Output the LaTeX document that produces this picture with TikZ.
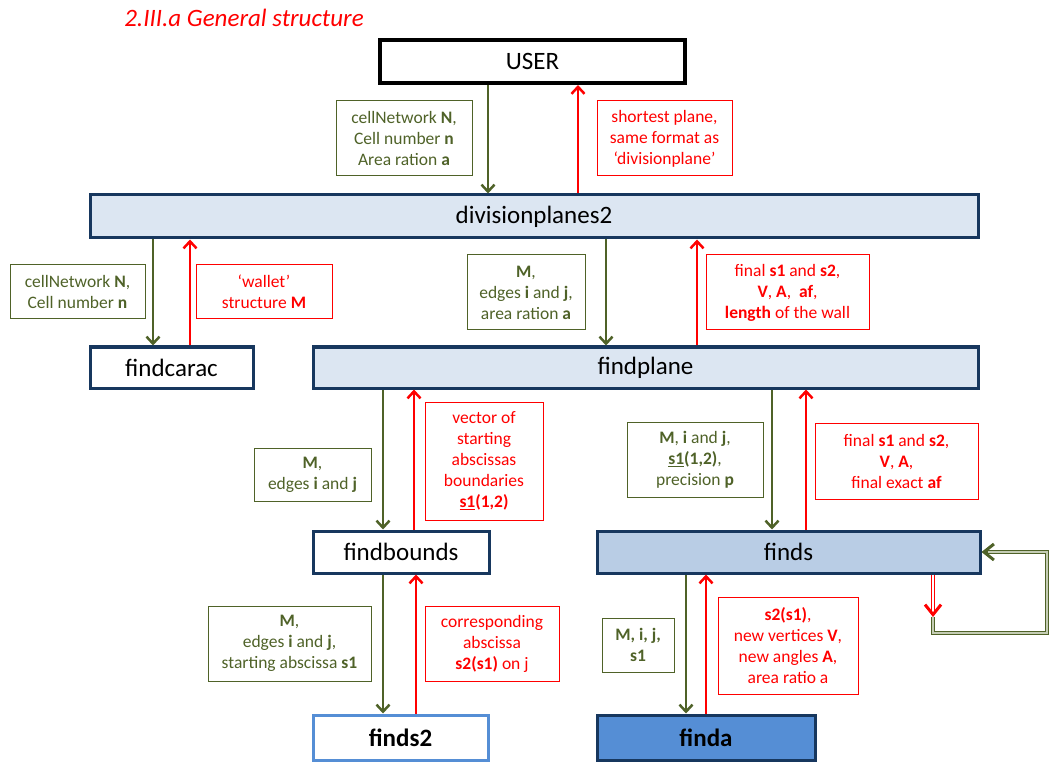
\documentclass[tikz,border=0pt]{standalone}
\usepackage{fontspec}
\setmainfont{Carlito}
\usetikzlibrary{arrows.meta,positioning}

\definecolor{olivegreen}{HTML}{4F6228}
\definecolor{navyline}{HTML}{17375E}
\definecolor{paleblue}{HTML}{DCE6F2}
\definecolor{midblue}{HTML}{B9CDE5}
\definecolor{deepblue}{HTML}{558ED5}
\definecolor{loopfill}{HTML}{C4CCB4}

\begin{document}
\begin{tikzpicture}[x=1pt, y=-1pt,
    mainbox/.style={rectangle, draw=navyline, line width=3pt, font=\fontsize{25}{29}\selectfont, inner sep=0pt},
    inlabel/.style={rectangle, draw=olivegreen, line width=1pt, text=olivegreen, align=center, font=\fontsize{17.5}{21}\selectfont, inner sep=0pt},
    outlabel/.style={rectangle, draw=red, line width=1pt, text=red, align=center, font=\fontsize{17.5}{21}\selectfont, inner sep=0pt},
    callarrow/.style={draw=olivegreen, line width=2.5pt, -{Straight Barb[length=7pt,width=13pt]}},
    returnarrow/.style={draw=red, line width=2.5pt, -{Straight Barb[length=7pt,width=13pt]}},
    loopline/.style={line width=1pt, double distance=2.5pt},
    looptip/.style={line width=3pt, -{Straight Barb[length=10pt,width=16pt]}}]
    \useasboundingbox (0,0) rectangle (1063,767);

    \node (title) [text=red, font=\fontsize{25}{29}\selectfont\itshape] at (244,18) {2.III.a General structure};

    % calling tree
    \node (user) [mainbox, draw=black, line width=4pt, fill=white, minimum width=305pt, minimum height=43pt] at (532.5,61.5) {USER};
    \node (div) [mainbox, fill=paleblue, minimum width=888pt, minimum height=43pt] at (534,216.5) {divisionplanes2};
    \node (findcarac) [mainbox, fill=white, minimum width=163pt, minimum height=41pt] at (171.5,367.5) {findcarac};
    \node (findplane) [mainbox, fill=paleblue, minimum width=665pt, minimum height=41pt] at (645.5,367.5) {findplane};
    \node (findbounds) [mainbox, fill=white, minimum width=176pt, minimum height=42pt] at (401,552) {findbounds};
    \node (finds) [mainbox, fill=midblue, minimum width=383pt, minimum height=42pt] at (788.5,552) {finds};
    \node (finds2) [mainbox, draw=deepblue, fill=white, minimum width=175pt, minimum height=45pt] at (400.5,737.5) {\textbf{finds2}};
    \node (finda) [mainbox, fill=deepblue, minimum width=218pt, minimum height=45pt] at (706,737.5) {\textbf{finda}};

    % inputs and outputs
    \node (in1) [inlabel, minimum width=136pt, minimum height=75pt] at (404,138.5) {cellNetwork \textbf{N},\\Cell number \textbf{n}\\Area ration \textbf{a}};
    \node (out1) [outlabel, minimum width=135pt, minimum height=75pt] at (664.5,138.5) {shortest plane,\\same format as\\‘divisionplane’};
    \node (in2) [inlabel, minimum width=135pt, minimum height=54pt] at (77.5,292) {cellNetwork \textbf{N},\\Cell number \textbf{n}};
    \node (out2) [outlabel, minimum width=136pt, minimum height=54pt] at (264,292) {‘wallet’\\structure \textbf{M}};
    \node (in3) [inlabel, minimum width=118pt, minimum height=75pt] at (526,292.5) {\textbf{M},\\edges \textbf{i} and \textbf{j},\\area ration \textbf{a}};
    \node (out3) [outlabel, minimum width=163pt, minimum height=75pt] at (787.5,292.5) {final \textbf{s1} and \textbf{s2},\\\textbf{V}, \textbf{A}, \ \textbf{af},\\\textbf{length} of the wall};
    \node (in4) [inlabel, minimum width=117pt, minimum height=53pt] at (312.5,474.5) {\textbf{M},\\edges \textbf{i} and \textbf{j}};
    \node (out4) [outlabel, minimum width=118pt, minimum height=118pt] at (484,461) {vector of\\starting\\abscissas\\boundaries\\\underline{\textbf{s1}}\textbf{(1,2)}};
    \node (in5) [inlabel, minimum width=136pt, minimum height=75pt] at (695,459.5) {\textbf{M}, \textbf{i} and \textbf{j},\\\underline{\textbf{s1}}\textbf{(1,2)},\\precision \textbf{p}};
    \node (out5) [outlabel, minimum width=163pt, minimum height=76pt] at (896.5,461) {final \textbf{s1} and \textbf{s2},\\\textbf{V}, \textbf{A},\\final exact \textbf{af}};
    \node (in6) [inlabel, minimum width=163pt, minimum height=75pt] at (289.5,643.5) {\textbf{M},\\edges \textbf{i} and \textbf{j},\\starting abscissa \textbf{s1}};
    \node (out6) [outlabel, minimum width=134pt, minimum height=75pt] at (492,643.5) {corresponding\\abscissa\\\textbf{s2(s1)} on j};
    \node (in7) [inlabel, minimum width=72pt, minimum height=54pt] at (638,645) {\textbf{M, i, j,}\\\textbf{s1}};
    \node (out7) [outlabel, minimum width=140pt, minimum height=97pt] at (788,645.5) {\textbf{s2(s1)},\\new vertices \textbf{V},\\new angles \textbf{A},\\area ratio a};

    \draw[callarrow] (user.south -| 488,0) -- (div.north -| 488,0);
    \draw[returnarrow] (div.north -| 578,0) -- (user.south -| 578,0);
    \draw[callarrow] (div.south -| 153,0) -- (findcarac.north -| 153,0);
    \draw[returnarrow] (findcarac.north -| 190,0) -- (div.south -| 190,0);
    \draw[callarrow] (div.south -| 606,0) -- (findplane.north -| 606,0);
    \draw[returnarrow] (findplane.north -| 697,0) -- (div.south -| 697,0);
    \draw[callarrow] (findplane.south -| 383,0) -- (findbounds.north -| 383,0);
    \draw[returnarrow] (findbounds.north -| 414,0) -- (findplane.south -| 414,0);
    \draw[callarrow] (findplane.south -| 772,0) -- (finds.north -| 772,0);
    \draw[returnarrow] (finds.north -| 806,0) -- (findplane.south -| 806,0);
    \draw[callarrow] (findbounds.south -| 383,0) -- (finds2.north -| 383,0);
    \draw[returnarrow] (finds2.north -| 416,0) -- (findbounds.south -| 416,0);
    \draw[callarrow] (finds.south -| 686,0) -- (finda.north -| 686,0);
    \draw[returnarrow] (finda.north -| 706,0) -- (finds.south -| 706,0);

    % recursive call of finds
    \coordinate (loopturn) at (933,617);
    \coordinate (loopbase) at (933,633);
    \coordinate (loopend) at (1047,552);
    \draw[loopline, draw=red, double=white, shorten >=4pt] (finds.south -| 933,0) -- (loopturn);
    \draw[looptip, draw=red] ([yshift=5pt]loopturn) -- (loopturn);
    \draw[loopline, draw=olivegreen, double=loopfill, shorten >=4pt] (loopturn) -- (loopbase) -| (loopend) -- (finds.east);
    \draw[looptip, draw=olivegreen] ([xshift=6pt]finds.east) -- (finds.east);
\end{tikzpicture}
\end{document}
